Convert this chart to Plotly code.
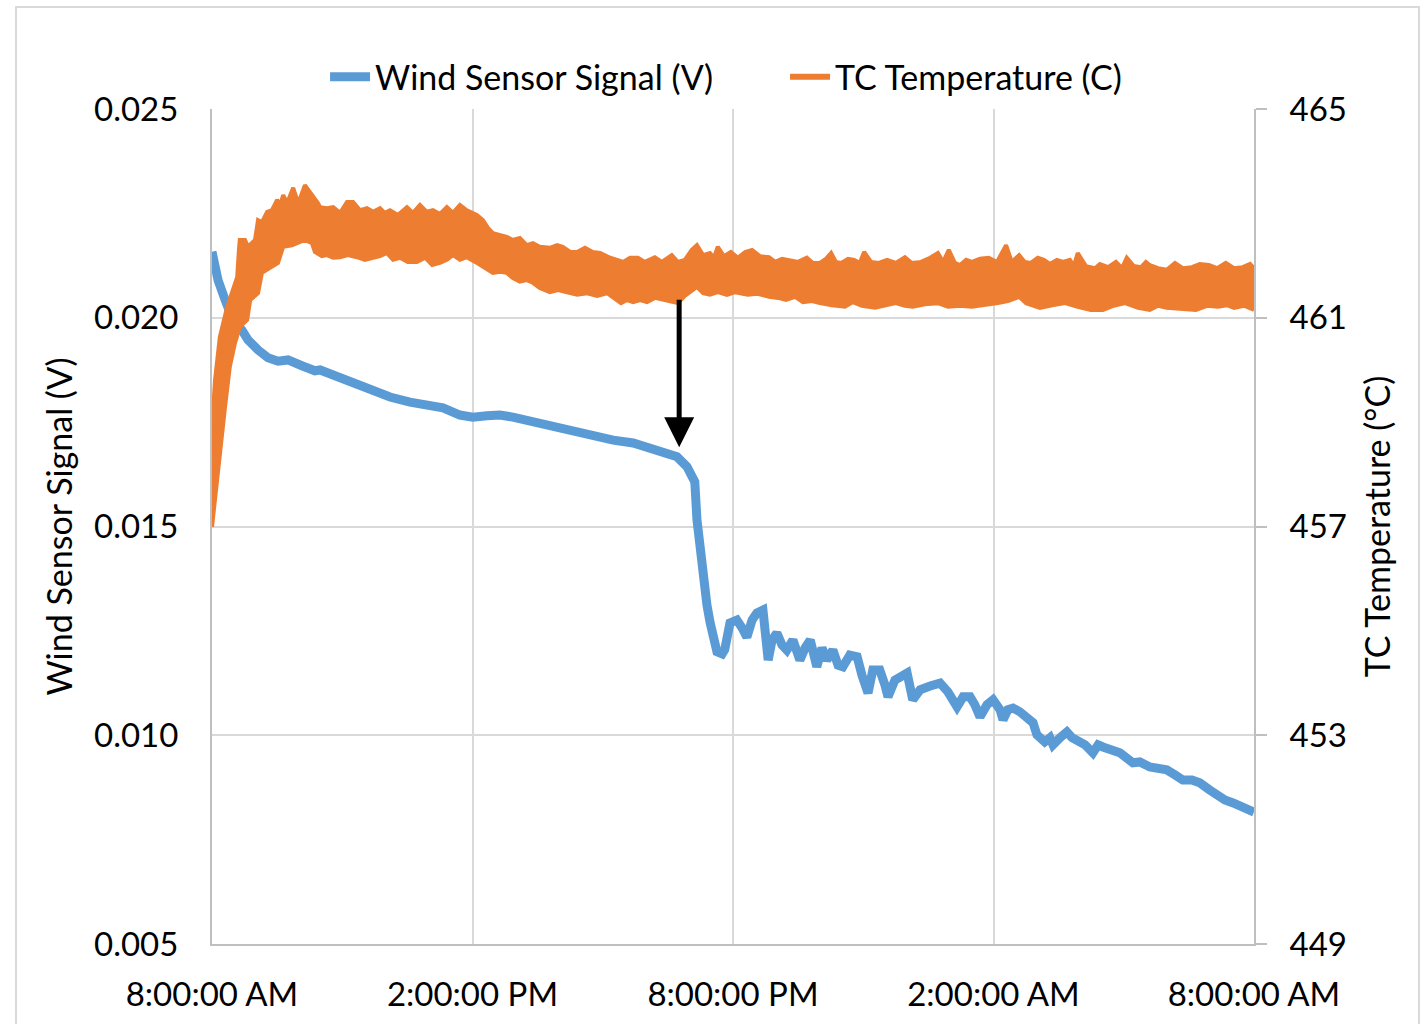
import plotly.graph_objects as go

# Elapsed hours since 8:00:00 AM and wind sensor output (V)
wind_hours = [0, 0.14, 0.30, 0.48, 0.69, 0.83, 1.06, 1.29, 1.52, 1.75, 2.07, 2.37, 2.49, 2.79,
              3.25, 3.80, 4.10, 4.56, 4.95, 5.32, 5.71, 6.01, 6.33, 6.63, 6.93, 7.39, 7.85, 8.31,
              8.77, 9.24, 9.70, 10.16, 10.48, 10.71, 10.94, 11.06, 11.12, 11.17, 11.24,
              11.31, 11.40, 11.47, 11.56, 11.63, 11.75, 11.81, 11.93, 12.09, 12.21, 12.32, 12.44,
              12.55, 12.69, 12.81, 12.90, 13.01, 13.13, 13.24, 13.38, 13.54, 13.66, 13.78, 13.93,
              14.05, 14.16, 14.30, 14.42, 14.53, 14.69, 14.86, 14.97, 15.11, 15.22, 15.38, 15.50,
              15.57, 15.73, 15.85, 16.01, 16.14, 16.31, 16.54, 16.77, 16.95, 17.16, 17.30, 17.46,
              17.57, 17.69, 17.85, 17.99, 18.15, 18.22, 18.33, 18.45, 18.61, 18.77, 18.91, 19.00,
              19.07, 19.18, 19.30, 19.37, 19.53, 19.69, 19.81, 19.92, 20.11, 20.29, 20.41, 20.52,
              20.68, 20.91, 21.21, 21.37, 21.60, 21.83, 21.99, 22.18, 22.36, 22.57, 22.75, 22.98,
              23.15, 23.33, 23.52, 23.73, 24.00]
wind_volts = [0.02158, 0.02090, 0.02043, 0.01995, 0.01970, 0.01947, 0.01923, 0.01904, 0.01896,
              0.01899, 0.01885, 0.01873, 0.01875, 0.01863, 0.01844, 0.01827, 0.01810, 0.01798,
              0.01791, 0.01784, 0.01767, 0.01762, 0.01765, 0.01767, 0.01762, 0.01750, 0.01743,
              0.01726, 0.01717, 0.01707, 0.01700, 0.01686, 0.01679, 0.01667, 0.01643, 0.01621,
              0.01607, 0.01516, 0.01444,
              0.01372, 0.01312, 0.01271, 0.01216, 0.01200, 0.01195, 0.01205, 0.01269, 0.01276,
              0.01257, 0.01235, 0.01276, 0.01293, 0.01300, 0.01180, 0.01228, 0.01245, 0.01216,
              0.01204, 0.01228, 0.01180, 0.01209, 0.01228, 0.01164, 0.01209, 0.01180, 0.01204,
              0.01168, 0.01164, 0.01192, 0.01188, 0.01144, 0.01101, 0.01156, 0.01156, 0.01120,
              0.01092, 0.01132, 0.01137, 0.01149, 0.01085, 0.01109, 0.01118, 0.01125, 0.01104,
              0.01068, 0.01092, 0.01092, 0.01073, 0.01044, 0.01073, 0.01085, 0.01061, 0.01037,
              0.01061, 0.01065, 0.01056, 0.01041, 0.01030, 0.01001, 0.00994, 0.00984, 0.00994,
              0.00977, 0.00994, 0.01008, 0.00994, 0.00989, 0.00977, 0.00958, 0.00977, 0.00972,
              0.00965, 0.00958, 0.00934, 0.00936, 0.00924, 0.00922, 0.00917, 0.00905, 0.00893,
              0.00893, 0.00886, 0.00869, 0.00857, 0.00845, 0.00838, 0.00828, 0.00816]

# Thermocouple reading (C): upper and lower edges of the noisy trace
tc_high_hours = [0, 0.02, 0.03, 0.07, 0.14, 0.18, 0.35, 0.46, 0.58, 0.62, 0.64, 0.76, 0.83, 0.99,
                 1.06, 1.15, 1.27, 1.38, 1.50, 1.57, 1.64, 1.73, 1.80, 1.87, 1.96, 2.03, 2.14,
                 2.26, 2.33, 2.44, 2.49, 2.65, 2.79, 2.95, 3.11, 3.25, 3.41, 3.57, 3.71,
                 3.87, 3.98, 4.10, 4.28, 4.49, 4.63, 4.79, 4.95, 5.09, 5.25, 5.41, 5.55, 5.71,
                 5.87, 6.10, 6.24, 6.36, 6.47, 6.63, 6.79, 6.93, 7.09, 7.25, 7.39, 7.55, 7.78,
                 7.95, 8.08, 8.25, 8.41, 8.59, 8.77, 8.94, 9.17, 9.33, 9.47, 9.63, 9.81, 9.97,
                 10.20, 10.36, 10.59, 10.73, 10.89, 11.05, 11.17, 11.31, 11.47, 11.56, 11.65,
                 11.79, 11.95, 12.11, 12.28, 12.44, 12.62, 12.83, 12.97, 13.13, 13.31, 13.50,
                 13.70, 13.84, 14.00, 14.14, 14.26, 14.37, 14.49, 14.65, 14.79, 14.92, 15.02,
                 15.18, 15.36, 15.55, 15.75, 15.96, 16.12, 16.33, 16.54, 16.72, 16.84, 16.97,
                 17.11, 17.23, 17.37, 17.50, 17.69, 17.89, 18.08, 18.29, 18.42, 18.59, 18.72,
                 18.86, 19.02, 19.16, 19.30, 19.46, 19.60, 19.76, 19.85, 19.94, 20.13, 20.34,
                 20.45, 20.64, 20.82, 20.96, 21.07, 21.23, 21.40, 21.51, 21.60, 21.79, 21.99,
                 22.18, 22.36, 22.57, 22.75, 22.96, 23.15, 23.35, 23.54, 23.74, 23.91, 24.00]
tc_high_temp = [456.99, 457.89, 459.29, 459.81, 460.32, 460.63, 461.21, 461.47, 461.78, 462.30,
                462.49, 462.49, 462.36, 462.49, 462.87, 462.83, 463.03, 463.06, 463.26, 463.16,
                463.35, 463.20, 463.35, 463.49, 463.26, 463.29, 463.54, 463.41, 463.31,
                463.20, 463.12, 463.10, 463.12, 463.01, 463.22, 463.22, 463.06, 463.10, 463.03,
                463.10, 463.01, 463.06, 462.97, 463.12, 463.01, 463.16, 463.03, 463.06, 462.99,
                463.12, 463.01, 463.16, 463.06, 462.97, 462.87, 462.72, 462.62, 462.59, 462.55,
                462.49, 462.53, 462.39, 462.43, 462.36, 462.34, 462.39, 462.36, 462.26, 462.26,
                462.34, 462.26, 462.24, 462.15, 462.11, 462.07, 462.15, 462.15, 462.07, 462.16,
                462.07, 462.20, 462.07, 462.11, 462.30, 462.39, 462.20, 462.24, 462.15, 462.36,
                462.18, 462.26, 462.15, 462.26, 462.30, 462.18, 462.16, 462.07, 462.13, 462.11,
                462.07, 462.15, 462.05, 462.05, 462.13, 462.24, 462.07, 462.05, 462.13, 462.11,
                462.05, 462.26, 462.07, 462.05, 462.11, 462.05, 462.16, 462.05, 462.07, 462.15,
                462.24, 462.07, 462.30, 462.05, 462.01, 462.11, 462.07, 462.13, 462.15, 462.07,
                462.39, 462.07, 462.20, 462.07, 462.05, 462.15, 462.11, 462.03, 462.11, 462.07,
                462.11, 461.99, 462.24, 461.99, 461.95, 462.03, 461.97, 462.07, 461.95, 462.15,
                461.99, 461.97, 462.07, 462.01, 461.95, 461.92, 462.05, 461.95, 461.97, 462.03,
                462.01, 461.95, 462.05, 461.95, 461.97, 462.03, 461.95]

tc_low_hours = [0, 0.14, 0.30, 0.41, 0.53, 0.64, 0.81, 0.88, 1.06, 1.15, 1.38, 1.52, 1.64, 1.84,
                2.14, 2.30, 2.37, 2.53, 2.65, 2.79, 2.95, 3.13,
                3.34, 3.52, 3.71, 3.87, 4.03, 4.17, 4.33, 4.51, 4.72, 4.91, 5.07, 5.25, 5.41,
                5.55, 5.71, 5.87, 6.06, 6.24, 6.36, 6.47, 6.63, 6.79, 6.93, 7.09, 7.25, 7.39,
                7.55, 7.78, 7.97, 8.18, 8.41, 8.64, 8.87, 9.10, 9.24, 9.42, 9.56, 9.70, 9.86,
                10.02, 10.20, 10.39, 10.55, 10.73, 10.89, 11.01, 11.17, 11.31, 11.47, 11.65,
                11.86, 12.05, 12.34, 12.57, 12.83, 13.04, 13.22, 13.43, 13.61, 13.82, 14.00,
                14.28, 14.58, 14.76, 14.97, 15.27, 15.50, 15.75, 15.96, 16.14, 16.42, 16.72,
                16.95, 17.23, 17.50, 17.80, 18.10, 18.33, 18.59, 18.75, 18.91, 19.07, 19.35,
                19.65, 19.94, 20.24, 20.52, 20.77, 21.03, 21.33, 21.60, 21.79, 21.99, 22.29,
                22.66, 22.92, 23.17, 23.38, 23.54, 23.77, 24.00]
tc_low_temp = [456.99, 458.14, 459.29, 460.06, 460.52, 460.82, 460.96, 461.34, 461.47, 461.86,
               461.97, 462.05, 462.36, 462.39, 462.49, 462.43, 462.26, 462.18, 462.20, 462.15,
               462.16, 462.20, 462.16, 462.11, 462.15,
               462.18, 462.24, 462.11, 462.15, 462.07, 462.07, 462.15, 462.01, 462.05, 462.11,
               462.20, 462.11, 462.16, 462.07, 461.97, 461.92, 461.86, 461.88, 461.86, 461.76,
               461.69, 461.72, 461.67, 461.57, 461.49, 461.53, 461.49, 461.44, 461.47, 461.42,
               461.47, 461.38, 461.28, 461.34, 461.30, 461.34, 461.30, 461.38, 461.34, 461.30,
               461.28, 461.42, 461.49, 461.59, 461.47, 461.44, 461.49, 461.44, 461.49, 461.44,
               461.46, 461.40, 461.38, 461.34, 461.40, 461.30, 461.32, 461.28, 461.24, 461.21,
               461.30, 461.23, 461.19, 461.24, 461.28, 461.23, 461.21, 461.26, 461.28, 461.21,
               461.23, 461.21, 461.24, 461.28, 461.32, 461.40, 461.28, 461.23, 461.19, 461.24,
               461.28, 461.21, 461.15, 461.15, 461.23, 461.28, 461.19, 461.15, 461.23, 461.19,
               461.17, 461.15, 461.23, 461.21, 461.24, 461.19, 461.23, 461.15]

# Point of the step change marked by the arrow
event_hour = 10.76
event_tail_volts = 0.02047
event_tip_volts = 0.0169

x_tick_hours = [0, 6, 12, 18, 24]
x_tick_text = ["8:00:00 AM", "2:00:00 PM", "8:00:00 PM", "2:00:00 AM", "8:00:00 AM"]
left_ticks = [0.005, 0.010, 0.015, 0.020, 0.025]
right_ticks = [449, 453, 457, 461, 465]

BLUE = "#5B9BD5"
ORANGE = "#ED7D31"
GRID = "#D9D9D9"
AXIS = "#BFBFBF"
FONT = "Lato, 'Open Sans', sans-serif"
TICK_SIZE = 33
TEXT_SIZE = 34

fig = go.Figure()

fig.add_trace(go.Scatter(
    x=wind_hours, y=wind_volts, mode="lines", name="Wind Sensor Signal (V)",
    line=dict(color=BLUE, width=9), yaxis="y",
))

# noisy temperature band: lower edge, then upper edge filled down to it
fig.add_trace(go.Scatter(
    x=tc_low_hours, y=tc_low_temp, mode="lines", showlegend=False, hoverinfo="skip",
    line=dict(color=ORANGE, width=4), yaxis="y2",
))
fig.add_trace(go.Scatter(
    x=tc_high_hours, y=tc_high_temp, mode="lines", showlegend=False, hoverinfo="skip",
    line=dict(color=ORANGE, width=4), fill="tonexty", fillcolor=ORANGE, yaxis="y2",
))
# legend entry for the temperature series
fig.add_trace(go.Scatter(
    x=[None], y=[None], mode="lines", name="TC Temperature (C)",
    line=dict(color=ORANGE, width=6), yaxis="y2",
))

fig.add_annotation(
    x=event_hour, y=event_tip_volts, ax=event_hour, ay=event_tail_volts,
    xref="x", yref="y", axref="x", ayref="y", text="", showarrow=True,
    arrowhead=2, arrowwidth=5, arrowsize=1.2, arrowcolor="black", standoff=0,
)

# light frame around the whole chart
fig.add_shape(type="rect", xref="paper", yref="paper",
              x0=-0.1881, x1=1.1583, y0=-0.098, y1=1.1222,
              line=dict(color=GRID, width=2), fillcolor="rgba(0,0,0,0)")

fig.update_layout(
    width=1425, height=1024,
    margin=dict(l=212, r=171, t=109, b=80, autoexpand=False),
    paper_bgcolor="white", plot_bgcolor="white",
    font=dict(family=FONT, size=TICK_SIZE, color="black"),
    showlegend=True,
    legend=dict(orientation="h", traceorder="normal",
                x=0.1085, xanchor="left", y=1.038, yanchor="middle",
                font=dict(size=TEXT_SIZE), itemwidth=40, entrywidth=405,
                bgcolor="rgba(0,0,0,0)"),
    xaxis=dict(
        range=[0, 24], tickvals=x_tick_hours, ticktext=x_tick_text,
        showgrid=True, gridcolor=GRID, gridwidth=2,
        showline=True, linecolor=AXIS, linewidth=2, ticks="", zeroline=False,
        ticklabelstandoff=20,
    ),
    yaxis=dict(
        range=[0.005, 0.025], tickvals=left_ticks, tickformat=".3f",
        showgrid=True, gridcolor=GRID, gridwidth=2,
        showline=True, linecolor=AXIS, linewidth=2, ticks="", zeroline=False,
        ticklabelstandoff=25,
        title=dict(text="Wind Sensor Signal (V)", font=dict(size=TEXT_SIZE), standoff=11),
    ),
    yaxis2=dict(
        range=[449, 465], tickvals=right_ticks, overlaying="y", side="right",
        showgrid=False, zeroline=False,
        showline=True, linecolor=AXIS, linewidth=2,
        ticks="outside", ticklen=11, tickwidth=2, tickcolor=AXIS,
        ticklabelstandoff=16,
        title=dict(text="TC Temperature (°C)", font=dict(size=TEXT_SIZE), standoff=20),
    ),
)

fig.write_html("out.html")
